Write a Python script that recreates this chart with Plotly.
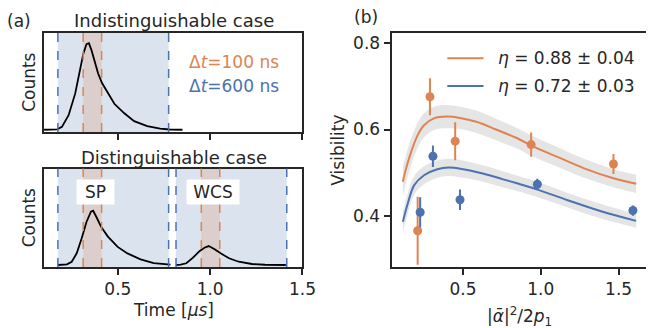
import plotly.graph_objects as go

W, H = 660, 328
FONT = "DejaVu Sans"
INK = "#262626"
ORANGE = "#dd8452"
BLUE = "#4c72b0"

# ---------------- panel (a) data ----------------
t_ind = [0.10, 0.15, 0.171, 0.197, 0.233, 0.269, 0.295, 0.313, 0.330, 0.343, 0.357, 0.375,
         0.393, 0.414, 0.446, 0.481, 0.535, 0.588, 0.659, 0.729, 0.782, 0.85]
c_ind = [0.0, 0.003, 0.005, 0.033, 0.168, 0.42, 0.69, 0.88, 0.99, 1.0, 0.92, 0.77,
         0.65, 0.54, 0.42, 0.30, 0.19, 0.10, 0.041, 0.012, 0.003, 0.0]

t_sp = [0.175, 0.20, 0.224, 0.25, 0.277, 0.304, 0.330, 0.354, 0.366, 0.383, 0.41, 0.446,
        0.499, 0.552, 0.623, 0.694, 0.765, 0.785]
c_sp = [0.0, 0.002, 0.008, 0.038, 0.136, 0.31, 0.50, 0.62, 0.63, 0.56, 0.44, 0.33,
        0.21, 0.135, 0.066, 0.023, 0.008, 0.005]

t_wcs = [0.815, 0.84, 0.871, 0.907, 0.942, 0.969, 0.992, 1.022, 1.057, 1.102, 1.155, 1.226,
         1.297, 1.41]
c_wcs = [0.0, 0.004, 0.02, 0.085, 0.16, 0.20, 0.22, 0.186, 0.136, 0.078, 0.038, 0.012,
         0.003, 0.0]

win600_ind = [(0.175, 0.775)]
win100_ind = [(0.312, 0.412)]
win600_dis = [(0.175, 0.775), (0.815, 1.415)]
win100_dis = [(0.312, 0.412), (0.952, 1.052)]

# ---------------- panel (b) data ----------------
xo = [0.209, 0.288, 0.450, 0.938, 1.467]
yo = [0.365, 0.676, 0.573, 0.565, 0.520]
eo = [0.079, 0.043, 0.044, 0.028, 0.023]

xb = [0.225, 0.307, 0.481, 0.978, 1.592]
yb = [0.408, 0.538, 0.437, 0.473, 0.412]
eb = [0.035, 0.025, 0.024, 0.013, 0.012]

fx_o = [0.114, 0.135, 0.167, 0.209, 0.25, 0.313, 0.397, 0.481, 0.586, 0.712, 0.858, 0.942,
        1.11, 1.278, 1.467, 1.613]
fy_o = [0.479, 0.510, 0.548, 0.587, 0.610, 0.626, 0.630, 0.627, 0.618, 0.600, 0.578, 0.562,
        0.536, 0.510, 0.487, 0.474]
fw_o = [0.035, 0.033, 0.031, 0.029, 0.028, 0.027, 0.027, 0.026, 0.026, 0.025, 0.024, 0.024,
        0.023, 0.022, 0.021, 0.021]

fx_b = [0.114, 0.146, 0.187, 0.25, 0.335, 0.408, 0.502, 0.628, 0.753, 0.858, 0.984, 1.173,
        1.382, 1.613]
fy_b = [0.386, 0.429, 0.471, 0.494, 0.508, 0.512, 0.508, 0.498, 0.485, 0.474, 0.460, 0.436,
        0.411, 0.388]
fw_b = [0.025, 0.024, 0.022, 0.021, 0.020, 0.020, 0.020, 0.019, 0.019, 0.018, 0.018, 0.017,
        0.017, 0.016]

legend_labels = ["<i>η</i> = 0.88 ± 0.04", "<i>η</i> = 0.72 ± 0.03"]


def PX(x):
    return x / W


def PY(y):
    return 1 - y / H


fig = go.Figure()

# panel (a) curves
fig.add_trace(go.Scatter(x=t_ind, y=c_ind, mode="lines", line=dict(color="black", width=1.8),
                         xaxis="x", yaxis="y", showlegend=False))
fig.add_trace(go.Scatter(x=t_sp, y=c_sp, mode="lines", line=dict(color="black", width=1.8),
                         xaxis="x2", yaxis="y2", showlegend=False))
fig.add_trace(go.Scatter(x=t_wcs, y=c_wcs, mode="lines", line=dict(color="black", width=1.8),
                         xaxis="x2", yaxis="y2", showlegend=False))

# panel (b) bands
for fx, fy, fw in [(fx_o, fy_o, fw_o), (fx_b, fy_b, fw_b)]:
    fig.add_trace(go.Scatter(x=fx, y=[a + b for a, b in zip(fy, fw)], mode="lines",
                             line=dict(width=0, shape="spline"), xaxis="x3", yaxis="y3",
                             showlegend=False))
    fig.add_trace(go.Scatter(x=fx, y=[a - b for a, b in zip(fy, fw)], mode="lines",
                             line=dict(width=0, shape="spline"), fill="tonexty",
                             fillcolor="rgba(0,0,0,0.1)",
                             xaxis="x3", yaxis="y3", showlegend=False))
# fits
fig.add_trace(go.Scatter(x=fx_o, y=fy_o, mode="lines", line=dict(color=ORANGE, width=2, shape="spline"),
                         xaxis="x3", yaxis="y3", showlegend=False))
fig.add_trace(go.Scatter(x=fx_b, y=fy_b, mode="lines", line=dict(color=BLUE, width=2, shape="spline"),
                         xaxis="x3", yaxis="y3", showlegend=False))
# data points
fig.add_trace(go.Scatter(x=xo, y=yo, mode="markers",
                         marker=dict(color=ORANGE, size=9),
                         error_y=dict(type="data", array=eo, color=ORANGE, thickness=2, width=0),
                         xaxis="x3", yaxis="y3", showlegend=False))
fig.add_trace(go.Scatter(x=xb, y=yb, mode="markers",
                         marker=dict(color=BLUE, size=9),
                         error_y=dict(type="data", array=eb, color=BLUE, thickness=2, width=0),
                         xaxis="x3", yaxis="y3", showlegend=False))

shapes = []


def windows(xref, yref, w600, w100):
    for a, b in w600:
        shapes.append(dict(type="rect", xref=xref, yref=yref + " domain", x0=a, x1=b, y0=0, y1=1,
                           fillcolor="rgba(76,114,176,0.2)", line_width=0, layer="below"))
    for a, b in w100:
        shapes.append(dict(type="rect", xref=xref, yref=yref + " domain", x0=a, x1=b, y0=0, y1=1,
                           fillcolor="rgba(221,132,82,0.22)", line_width=0, layer="below"))
    for a, b in w600:
        for v in (a, b):
            shapes.append(dict(type="line", xref=xref, yref=yref + " domain", x0=v, x1=v, y0=0, y1=1,
                               line=dict(color=BLUE, width=1.5, dash="dash")))
    for a, b in w100:
        for v in (a, b):
            shapes.append(dict(type="line", xref=xref, yref=yref + " domain", x0=v, x1=v, y0=0, y1=1,
                               line=dict(color=ORANGE, width=1.5, dash="dash")))


windows("x", "y", win600_ind, win100_ind)
windows("x2", "y2", win600_dis, win100_dis)

# legend lines for (b)
shapes.append(dict(type="line", xref="paper", yref="paper", x0=PX(457), x1=PX(494), y0=PY(58.3), y1=PY(58.3),
                   line=dict(color=ORANGE, width=2)))
shapes.append(dict(type="line", xref="paper", yref="paper", x0=PX(457), x1=PX(494), y0=PY(86), y1=PY(86),
                   line=dict(color=BLUE, width=2)))

F = dict(family=FONT, size=17, color=INK)
ann = []


def txt(x, y, s, size=17, color=INK, xanchor="center", **kw):
    d = dict(x=PX(x), y=PY(y), xref="paper", yref="paper", text=s, showarrow=False,
             xanchor=xanchor, yanchor="middle",
             font=dict(family=FONT, size=size, color=color))
    d.update(kw)
    ann.append(d)


txt(19, 21, "(a)")
txt(374, 17, "(b)")
txt(178, 21, "Indistinguishable case", size=18)
txt(178, 157, "Distinguishable case", size=18)
txt(30, 82.5, "Counts", textangle=-90)
txt(30, 218, "Counts", textangle=-90)
txt(177.5, 310, "Time [<i>μs</i>]")
txt(345, 150, "Visibility", textangle=-90)
txt(531, 316, "|<i>ᾱ</i>|<sup>2</sup>/2<i>p</i><sub>1</sub>")
txt(239, 62, "Δ<i>t</i>=100 ns", color=ORANGE)
txt(239, 86, "Δ<i>t</i>=600 ns", color=BLUE)
txt(506.5, 58.3, legend_labels[0], xanchor="left")
txt(506.5, 86, legend_labels[1], xanchor="left")
for xc, s, wbox in [(0.379, "SP", 37), (1.0176, "WCS", 52)]:
    ann.append(dict(x=xc, y=0.847, xref="x2", yref="y2", text=s, showarrow=False,
                    xanchor="center", yanchor="middle",
                    font=F, bgcolor="white", width=wbox, height=24, borderpad=0))

ax_common = dict(showline=True, linecolor=INK, linewidth=2, mirror=True, showgrid=False,
                 zeroline=False, ticks="outside", ticklen=6, tickwidth=1.5, tickcolor=INK,
                 tickfont=F)

fig.update_layout(
    width=W, height=H, autosize=False,
    margin=dict(l=0, r=0, t=0, b=0),
    paper_bgcolor="white", plot_bgcolor="white",
    showlegend=False,
    xaxis=dict(ax_common, domain=[PX(45), PX(309)], range=[0.1, 1.5], anchor="y",
               tickvals=[0.5, 1.0, 1.5], showticklabels=False),
    yaxis=dict(ax_common, domain=[PY(132), PY(33)], range=[-0.026, 1.118], anchor="x",
               ticks="", showticklabels=False),
    xaxis2=dict(ax_common, domain=[PX(45), PX(309)], range=[0.1, 1.5], anchor="y2",
                tickvals=[0.5, 1.0, 1.5], ticktext=["0.5", "1.0", "1.5"]),
    yaxis2=dict(ax_common, domain=[PY(267), PY(168.5)], range=[-0.023, 1.12], anchor="x2",
                ticks="", showticklabels=False),
    xaxis3=dict(ax_common, domain=[PX(400), 1.0], range=[0.041, 1.676], anchor="y3",
                tickvals=[0.5, 1.0, 1.5], ticktext=["0.5", "1.0", "1.5"]),
    yaxis3=dict(ax_common, domain=[PY(267), PY(33)], range=[0.281, 0.824], anchor="x3",
                mirror=False, tickvals=[0.4, 0.6, 0.8], ticktext=["0.4", "0.6", "0.8"]),
    shapes=shapes,
    annotations=ann,
)

fig.write_html("out.html")
